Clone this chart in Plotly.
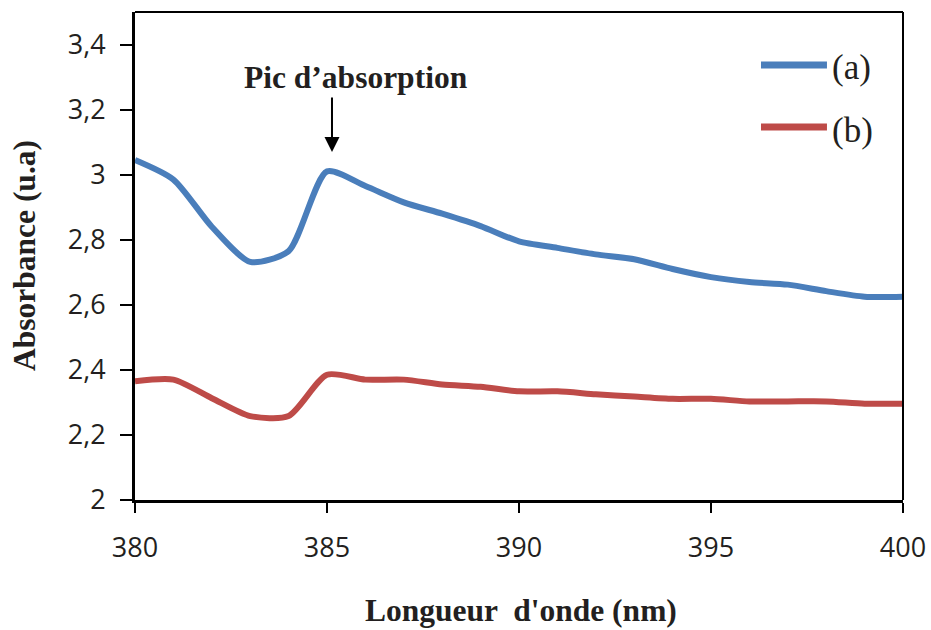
import plotly.graph_objects as go

wavelength = [380, 381, 382, 383, 384, 385, 386, 387, 388, 389, 390,
              391, 392, 393, 394, 395, 396, 397, 398, 399, 400]
absorb_a = [3.045, 2.985, 2.84, 2.732, 2.765, 3.01, 2.965, 2.915, 2.88, 2.842, 2.795,
            2.775, 2.755, 2.74, 2.71, 2.685, 2.67, 2.662, 2.642, 2.625, 2.625]
absorb_b = [2.365, 2.37, 2.313, 2.258, 2.258, 2.385, 2.37, 2.37, 2.355, 2.348, 2.334,
            2.334, 2.325, 2.318, 2.311, 2.311, 2.303, 2.303, 2.303, 2.296, 2.296]
series_names = ["(a)", "(b)"]
series_colors = ["#4A7EBB", "#BE4B48"]

y_tickvals = [2, 2.2, 2.4, 2.6, 2.8, 3, 3.2, 3.4]
y_ticktext = ["2", "2,2", "2,4", "2,6", "2,8", "3", "3,2", "3,4"]
x_tickvals = [380, 385, 390, 395, 400]
x_ticktext = ["380", "385", "390", "395", "400"]

x_title = "Longueur  d'onde (nm)"
y_title = "Absorbance (u.a)"
peak_label = "Pic d\u2019absorption"
peak_wavelength = 385.13
peak_arrow_tip = 3.07
label_wavelength = 385.76
label_absorb = 3.30

serif = "Liberation Serif"
sans = "Open Sans"
ink = "#231F20"

fig = go.Figure()
for i, ys in enumerate([absorb_a, absorb_b]):
    fig.add_trace(go.Scatter(
        x=wavelength, y=ys, mode="lines", name=series_names[i],
        line=dict(color=series_colors[i], width=6, shape="spline", smoothing=0.7),
        showlegend=False,
    ))

fig.update_layout(
    width=931, height=630,
    margin=dict(l=135, r=28, t=12, b=130, autoexpand=False),
    paper_bgcolor="white", plot_bgcolor="white",
    showlegend=False,
    xaxis=dict(
        range=[380, 400], tickvals=x_tickvals, ticktext=x_ticktext,
        showgrid=False, zeroline=False,
        showline=True, linecolor="black", linewidth=3,
        ticks="outside", ticklen=10, tickwidth=2, tickcolor="black",
        ticklabelstandoff=12,
        tickfont=dict(family=sans, size=27, color=ink),
    ),
    yaxis=dict(
        range=[2, 3.5], tickvals=y_tickvals, ticktext=y_ticktext,
        showgrid=False, zeroline=False,
        showline=True, linecolor="black", linewidth=3,
        ticks="outside", ticklen=12, tickwidth=2, tickcolor="black",
        ticklabelstandoff=9,
        tickfont=dict(family=sans, size=27, color=ink),
    ),
)

# frame on top and right
fig.add_shape(type="line", xref="paper", yref="paper", x0=0, x1=1, y0=1, y1=1,
              line=dict(color="black", width=2))
fig.add_shape(type="line", xref="paper", yref="paper", x0=1, x1=1, y0=0, y1=1,
              line=dict(color="black", width=2))

# axis titles
fig.add_annotation(xref="paper", yref="paper", x=0.5026, y=0, yshift=-110,
                   xanchor="center", yanchor="middle", showarrow=False,
                   text="<b>" + x_title + "</b>",
                   font=dict(family=serif, size=31.5, color=ink))
fig.add_annotation(xref="paper", yref="paper", x=0, y=0.50, xshift=-111,
                   xanchor="center", yanchor="middle", showarrow=False,
                   textangle=-90, text="<b>" + y_title + "</b>",
                   font=dict(family=serif, size=31.5, color=ink))

# manual legend
legend_y = [0.8914, 0.7643]
for i, name in enumerate(series_names):
    fig.add_shape(type="line", xref="paper", yref="paper",
                  x0=0.8151, x1=0.901, y0=legend_y[i], y1=legend_y[i],
                  line=dict(color=series_colors[i], width=7))
    fig.add_annotation(xref="paper", yref="paper", x=0.905, y=legend_y[i],
                       xanchor="left", yanchor="middle", showarrow=False,
                       yshift=-3, text=name,
                       font=dict(family=serif, size=35, color=ink))

# peak annotation
fig.add_annotation(x=label_wavelength, y=label_absorb, xref="x", yref="y",
                   text="<b>" + peak_label + "</b>", showarrow=False,
                   xanchor="center", yanchor="middle",
                   font=dict(family=serif, size=31.5, color=ink))
fig.add_annotation(x=peak_wavelength, y=peak_arrow_tip, xref="x", yref="y",
                   text="", showarrow=True,
                   arrowhead=2, arrowsize=1.5, arrowwidth=2, arrowcolor="black",
                   ax=0, ay=-56)

fig.write_html(
    "out.html",
    config={"displayModeBar": False},
    post_script="document.body.style.margin='0';document.body.style.overflow='hidden';",
)
